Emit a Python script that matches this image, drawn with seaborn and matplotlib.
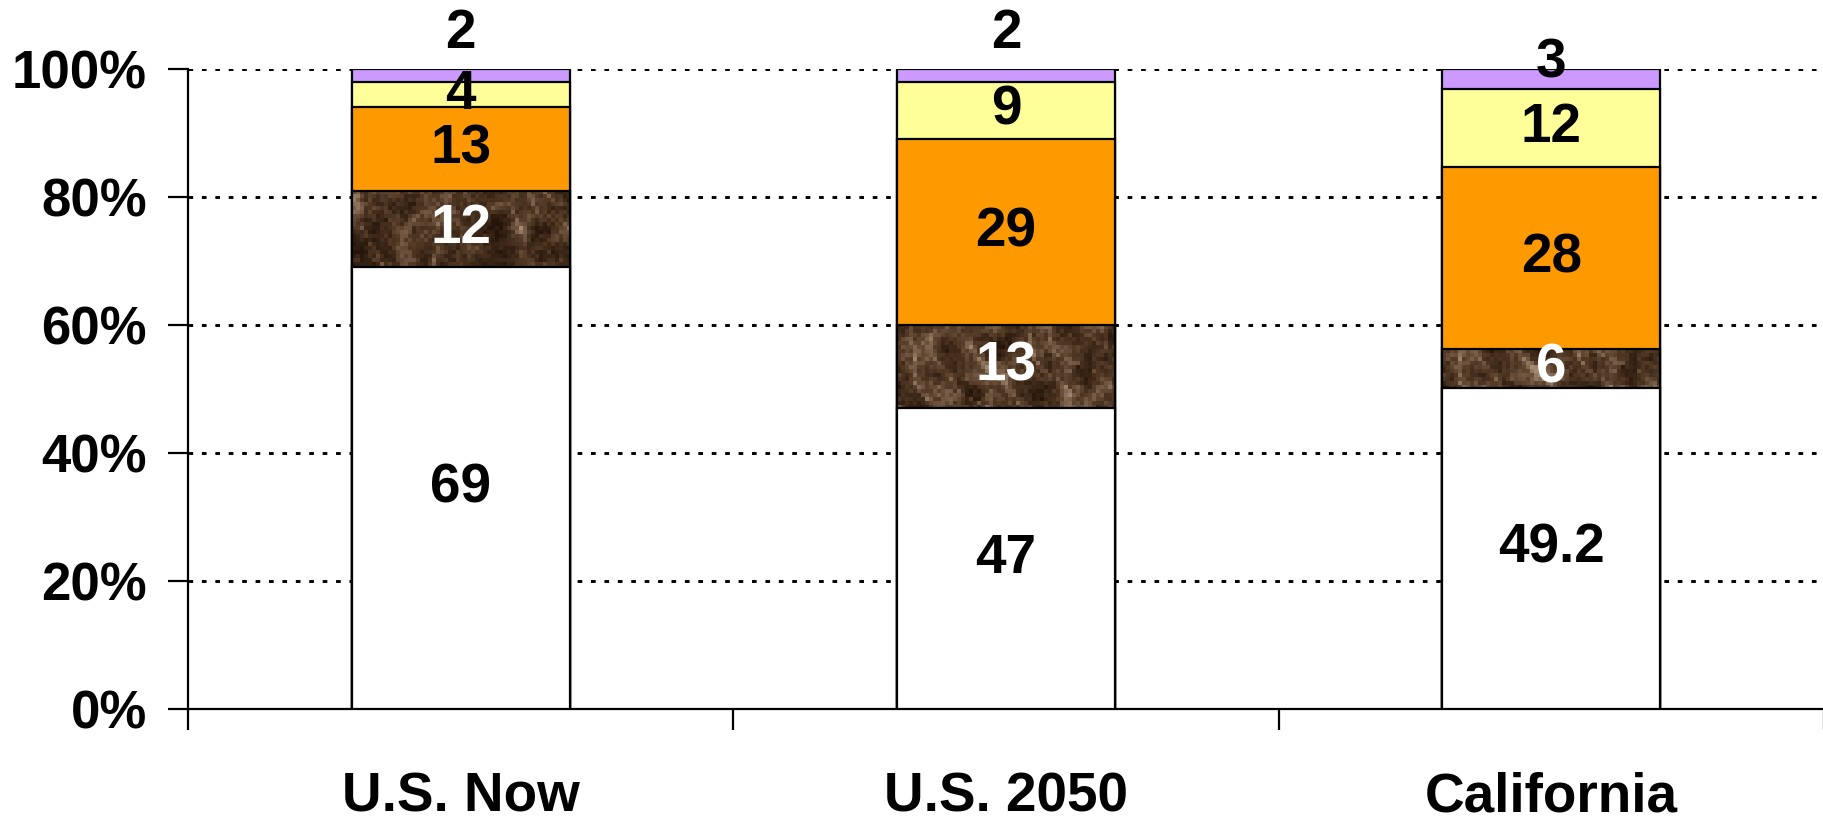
import numpy as np
import pandas as pd
import matplotlib
matplotlib.use("Agg")
import matplotlib.pyplot as plt
from matplotlib.colors import LinearSegmentedColormap
from matplotlib.ticker import FixedLocator, FuncFormatter
import seaborn as sns

# Population shares (percent) by group
categories = ["U.S. Now", "U.S. 2050", "California"]
white = [69, 47, 49.2]
black = [12, 13, 6]
hispanic = [13, 29, 28]
asian = [4, 9, 12]
other = [2, 2, 3]

y_ticks = [0, 20, 40, 60, 80, 100]

# bottom-to-top stacking order
groups = ["white", "black", "hispanic", "asian", "other"]
values = pd.DataFrame(
    {"white": white, "black": black, "hispanic": hispanic,
     "asian": asian, "other": other},
    index=categories,
)
colors = {"white": "#FFFFFF", "black": "#4A3322", "hispanic": "#FF9900",
          "asian": "#FFFF99", "other": "#CC99FF"}
text_colors = {"white": "black", "black": "white", "hispanic": "black",
               "asian": "black", "other": "black"}
# vertical nudge (in % units) of the thin top-segment labels
other_label_nudge = [6.5, 6.5, 2.4]

# 100% stacked: each column is scaled to its own total
shares = values.div(values.sum(axis=1), axis=0) * 100
tops = shares.cumsum(axis=1)
bottoms = tops - shares

sns.set_style("white")
plt.rcParams["font.family"] = ["Liberation Sans", "DejaVu Sans"]
plt.rcParams["font.weight"] = "bold"
plt.rcParams["text.color"] = "black"
plt.rcParams["xtick.color"] = "black"
plt.rcParams["ytick.color"] = "black"
plt.rcParams["axes.labelcolor"] = "black"

FS = 39.5
W, H = 1824, 826
fig = plt.figure(figsize=(W / 100, H / 100), dpi=100)
ax = fig.add_axes([188 / W, 1 - 709 / H, 1 - 188 / W, (709 - 69) / H])

bar_w = 0.4
# Overlapping cumulative bars, tallest first, so each layer shows one segment
zorders = {g: 10 - i for i, g in enumerate(groups)}
containers = {}
for g in reversed(groups):
    sns.barplot(x=categories, y=tops[g].values, color=colors[g], width=bar_w,
                saturation=1, edgecolor="black", linewidth=1.6, ax=ax,
                zorder=zorders[g])
    containers[g] = ax.containers[-1]

# Mottled brown texture for the black-population segment
def hash_noise(a, b, s):
    v = np.sin(a * 12.9898 + b * 78.233 + s) * 43758.5453
    return v - np.floor(v)

def value_noise(shape, cell, seed):
    gy, gx = np.mgrid[0:shape[0], 0:shape[1]]
    fy, fx = gy / cell, gx / cell
    iy, ix = np.floor(fy), np.floor(fx)
    ty, tx = fy - iy, fx - ix
    ty = ty * ty * (3 - 2 * ty)
    tx = tx * tx * (3 - 2 * tx)
    n00 = hash_noise(ix, iy, seed)
    n10 = hash_noise(ix + 1, iy, seed)
    n01 = hash_noise(ix, iy + 1, seed)
    n11 = hash_noise(ix + 1, iy + 1, seed)
    return (n00 * (1 - tx) + n10 * tx) * (1 - ty) + (n01 * (1 - tx) + n11 * tx) * ty

rows, cols = 160, 55
gy, gx = np.mgrid[0:rows, 0:cols]
tex = (0.45 * value_noise((rows, cols), 6, 0.3)
       + 0.3 * value_noise((rows, cols), 2.5, 1.7)
       + 0.25 * hash_noise(gx, gy, 4.1))
veins = np.abs(np.sin((gx + 0.6 * gy) * 0.3
                      + 4 * value_noise((rows, cols), 10, 2.9)))
tex = tex + 0.3 * np.exp(-veins * 5)
brown_cmap = LinearSegmentedColormap.from_list(
    "marble", ["#24140A", "#3A2616", "#553C28", "#7A604A", "#A48A70"])
for patch, top in zip(containers["black"].patches, tops["black"].values):
    x0 = patch.get_x()
    n = int(round(rows * top / 100))
    im = ax.imshow(tex[:n], cmap=brown_cmap, vmin=0.15, vmax=1.05,
                   extent=[x0, x0 + patch.get_width(), 0, top],
                   aspect="auto", interpolation="nearest", origin="lower",
                   zorder=zorders["black"] - 0.5)
    im.set_clip_path(patch)
    patch.set_facecolor("none")

# Segment value labels
for i, cat in enumerate(categories):
    for g in groups:
        y = (bottoms.loc[cat, g] + tops.loc[cat, g]) / 2
        if g == "other":
            y += other_label_nudge[i]
        val = values.loc[cat, g]
        ax.text(i, y, f"{val:g}", ha="center", va="center", fontsize=FS,
                fontweight="bold", color=text_colors[g], zorder=20,
                clip_on=False)

ax.set_xlim(-0.5, 2.5)
ax.set_ylim(0, 100)
ax.set_xlabel("")
ax.set_ylabel("")

# Axes styling
for side in ("top", "right"):
    ax.spines[side].set_visible(False)
for side in ("left", "bottom"):
    ax.spines[side].set_color("black")
    ax.spines[side].set_linewidth(1.6)

ax.yaxis.set_major_locator(FixedLocator(y_ticks))
ax.yaxis.set_major_formatter(FuncFormatter(lambda v, p: f"{v:.0f}%"))
ax.tick_params(axis="y", which="major", direction="out", length=14.5,
               width=1.6, color="black", pad=15, labelsize=38,
               labelcolor="black", left=True)
for lab in ax.get_yticklabels():
    lab.set_fontweight("bold")

ax.xaxis.set_major_locator(FixedLocator([-0.5, 0.5, 1.5, 2.5]))
ax.xaxis.set_minor_locator(FixedLocator([0, 1, 2]))
ax.xaxis.set_major_formatter(FuncFormatter(lambda v, p: ""))
ax.xaxis.set_minor_formatter(FuncFormatter(lambda v, p: categories[int(round(v))]))
ax.tick_params(axis="x", which="major", direction="out", length=15,
               width=1.6, color="black", bottom=True)
ax.tick_params(axis="x", which="minor", length=0, pad=45, labelsize=FS,
               labelcolor="black")
for lab in ax.get_xticklabels(minor=True):
    lab.set_fontweight("bold")

ax.yaxis.grid(True, color="black", linewidth=2.1, linestyle=(0, (1.6, 3.0)))
ax.xaxis.grid(False)
ax.set_axisbelow(True)

fig.savefig("out.png", dpi=100, facecolor="white")
